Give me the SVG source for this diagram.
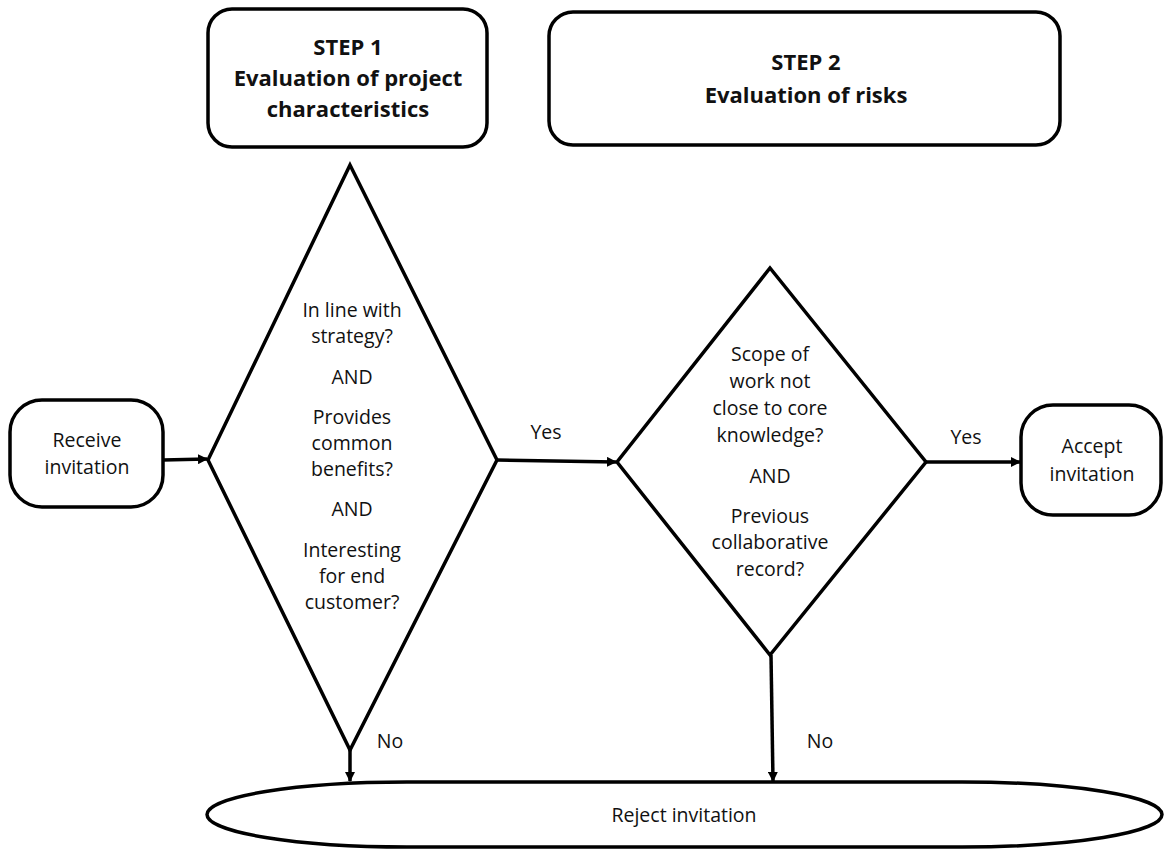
<svg xmlns="http://www.w3.org/2000/svg" width="1165" height="850" viewBox="0 0 1165 850">
<style>
.s{fill:#fff;stroke:#000;stroke-width:3.5}
.t{font-family:"Open Sans","Liberation Sans",sans-serif;font-size:19.5px;fill:#111;text-anchor:middle}
.b{font-family:"Open Sans","Liberation Sans",sans-serif;font-size:22px;font-weight:bold;fill:#111;text-anchor:middle}
.c{fill:none;stroke:#000;stroke-width:3.5}
</style>
<defs>
<marker id="ah" markerWidth="10" markerHeight="10" refX="9" refY="5" orient="auto" markerUnits="userSpaceOnUse" viewBox="0 0 10 10">
<path d="M0,0 L10,5 L0,10 z" fill="#000"/>
</marker>
</defs>
<rect width="1165" height="850" fill="#fff"/>
<g id="step1">
<rect class="s" x="208" y="9" width="279" height="138" rx="24"/>
<text class="b" x="348" y="55">STEP 1</text>
<text class="b" x="348" y="86">Evaluation of project</text>
<text class="b" x="348" y="117">characteristics</text>
</g>
<g id="step2">
<rect class="s" x="549" y="12" width="511" height="133" rx="24"/>
<text class="b" x="806" y="70">STEP 2</text>
<text class="b" x="806" y="103">Evaluation of risks</text>
</g>
<g id="receive">
<rect class="s" x="10" y="400" width="153" height="107" rx="32"/>
<text class="t" x="87" y="447">Receive</text>
<text class="t" x="87" y="474">invitation</text>
</g>
<g id="decision1">
<polygon class="s" points="350,165 497,460 350,750 208,460"/>
<text class="t" x="352" y="317">In line with</text>
<text class="t" x="352" y="343">strategy?</text>
<text class="t" x="352" y="384">AND</text>
<text class="t" x="352" y="424">Provides</text>
<text class="t" x="352" y="450">common</text>
<text class="t" x="352" y="476">benefits?</text>
<text class="t" x="352" y="516">AND</text>
<text class="t" x="352" y="557">Interesting</text>
<text class="t" x="352" y="583">for end</text>
<text class="t" x="352" y="609">customer?</text>
</g>
<g id="decision2">
<polygon class="s" points="770,268 926,462 770,655 617,462"/>
<text class="t" x="770" y="361">Scope of</text>
<text class="t" x="770" y="388">work not</text>
<text class="t" x="770" y="415">close to core</text>
<text class="t" x="770" y="442">knowledge?</text>
<text class="t" x="770" y="483">AND</text>
<text class="t" x="770" y="523">Previous</text>
<text class="t" x="770" y="549">collaborative</text>
<text class="t" x="770" y="576">record?</text>
</g>
<g id="accept">
<rect class="s" x="1021" y="405" width="140" height="110" rx="32"/>
<text class="t" x="1092" y="453">Accept</text>
<text class="t" x="1092" y="481">invitation</text>
</g>
<g id="reject">
<rect class="s" x="207" y="782" width="955" height="65" rx="200" ry="32.5"/>
<text class="t" x="684" y="822">Reject invitation</text>
</g>
<g id="connectors">
<line class="c" x1="163" y1="460" x2="207" y2="459" marker-end="url(#ah)"/>
<line class="c" x1="497" y1="460" x2="616" y2="462" marker-end="url(#ah)"/>
<line class="c" x1="926" y1="462" x2="1020" y2="462" marker-end="url(#ah)"/>
<line class="c" x1="350" y1="750" x2="350" y2="781" marker-end="url(#ah)"/>
<line class="c" x1="771" y1="655" x2="773" y2="781" marker-end="url(#ah)"/>
<text class="t" x="546" y="439">Yes</text>
<text class="t" x="966" y="444">Yes</text>
<text class="t" x="390" y="748">No</text>
<text class="t" x="820" y="748">No</text>
</g>
</svg>
